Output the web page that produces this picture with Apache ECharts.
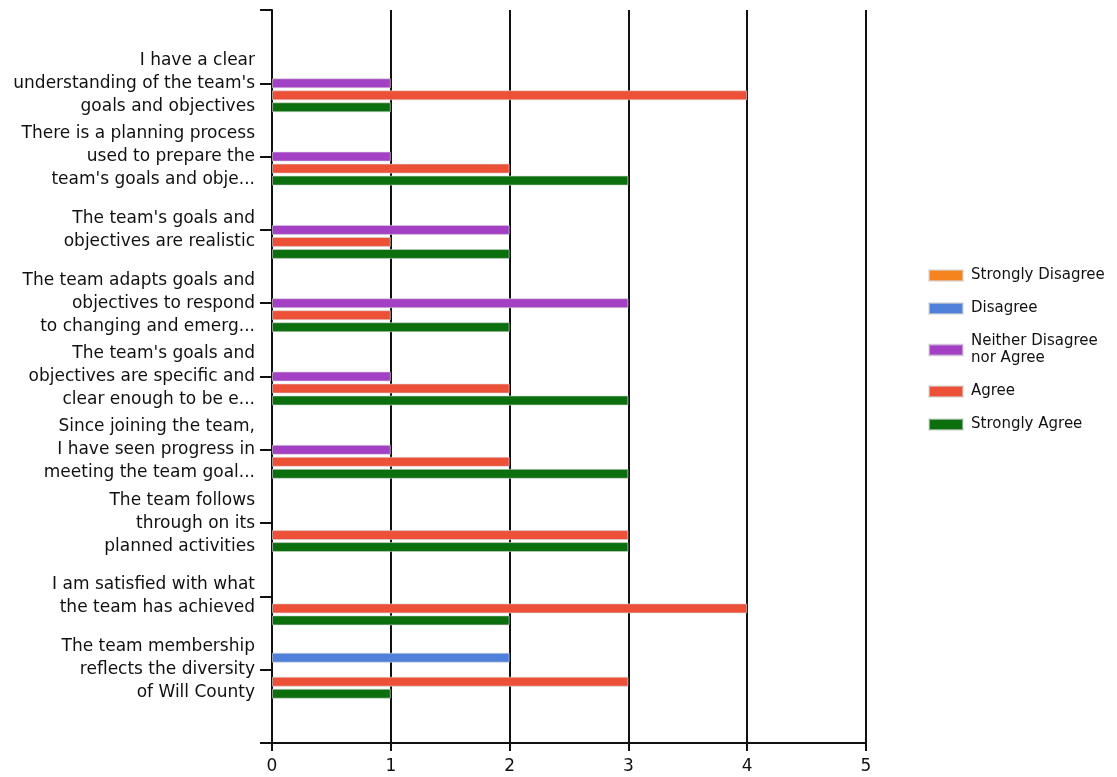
<!DOCTYPE html>
<html>
<head>
<meta charset="utf-8">
<script src="https://cdn.jsdelivr.net/npm/echarts@6/dist/echarts.min.js"></script>
<style>
  html, body { margin: 0; padding: 0; background: #fff; }
  #chart { width: 1117px; height: 777px; }
</style>
</head>
<body>
<div id="chart"></div>
<script>
// categories as shown (already wrapped / truncated like the picture)
const categories = [
  "I have a clear\nunderstanding of the team's\ngoals and objectives",
  "There is a planning process\nused to prepare the\nteam's goals and obje...",
  "The team's goals and\nobjectives are realistic",
  "The team adapts goals and\nobjectives to respond\nto changing and emerg...",
  "The team's goals and\nobjectives are specific and\nclear enough to be e...",
  "Since joining the team,\nI have seen progress in\nmeeting the team goal...",
  "The team follows\nthrough on its\nplanned activities",
  "I am satisfied with what\nthe team has achieved",
  "The team membership\nreflects the diversity\nof Will County"
];

const seriesNames = ["Strongly Disagree", "Disagree", "Neither Disagree\nnor Agree", "Agree", "Strongly Agree"];
const seriesColors = ["#F5841F", "#4F81DA", "#A440C4", "#EC5137", "#0B6F0E"];

const stronglyDisagree = [0, 0, 0, 0, 0, 0, 0, 0, 0];
const disagree         = [0, 0, 0, 0, 0, 0, 0, 0, 2];
const neither          = [1, 1, 2, 3, 1, 1, 0, 0, 0];
const agree            = [4, 2, 1, 1, 2, 2, 3, 4, 3];
const stronglyAgree    = [1, 3, 2, 2, 3, 3, 3, 2, 1];

const xTicks = [0, 1, 2, 3, 4, 5];

const font = "DejaVu Sans";

// the axis has an empty slot above the first and below the last category
const pad = (arr) => [null, ...arr.map((v) => (v === 0 ? null : v)), null];

const chart = echarts.init(document.getElementById("chart"));

const seriesData = [stronglyDisagree, disagree, neither, agree, stronglyAgree];

const option = {
  animation: false,
  grid: { left: 272, right: 251, top: 10, bottom: 34, containLabel: false },
  legend: {
    orient: "vertical",
    left: 923,
    top: 262,
    itemWidth: 34,
    itemHeight: 11,
    itemGap: 16,
    icon: "rect",
    textStyle: { fontFamily: font, fontSize: 15, color: "#111", lineHeight: 17, padding: [0, 0, 0, 3] },
    data: seriesNames
  },
  xAxis: {
    type: "value",
    min: 0,
    max: 5,
    interval: 1,
    axisLine: { show: true, lineStyle: { color: "#111", width: 2 } },
    axisTick: { show: true, length: 8, lineStyle: { color: "#111", width: 2 } },
    axisLabel: {
      margin: 15,
      fontFamily: font,
      fontSize: 17,
      color: "#111",
      formatter: (v) => (xTicks.includes(v) ? String(v) : "")
    },
    splitLine: { show: true, lineStyle: { color: "#111", width: 2 } }
  },
  yAxis: {
    type: "category",
    inverse: true,
    boundaryGap: false,
    data: ["", ...categories, ""],
    axisLine: { show: true, lineStyle: { color: "#111", width: 2 } },
    axisTick: { show: true, length: 12, interval: 0, lineStyle: { color: "#111", width: 2 } },
    axisLabel: {
      interval: 0,
      margin: 17,
      fontFamily: font,
      fontSize: 17,
      lineHeight: 23,
      color: "#111",
      align: "right"
    },
    splitLine: { show: false }
  },
  series: seriesNames.map((name, i) => ({
    name,
    type: "bar",
    data: pad(seriesData[i]),
    barWidth: 10,
    barGap: "20%",
    itemStyle: { color: seriesColors[i], borderColor: "rgba(215,215,215,0.6)", borderWidth: 1 }
  }))
};

chart.setOption(option);
</script>
</body>
</html>
